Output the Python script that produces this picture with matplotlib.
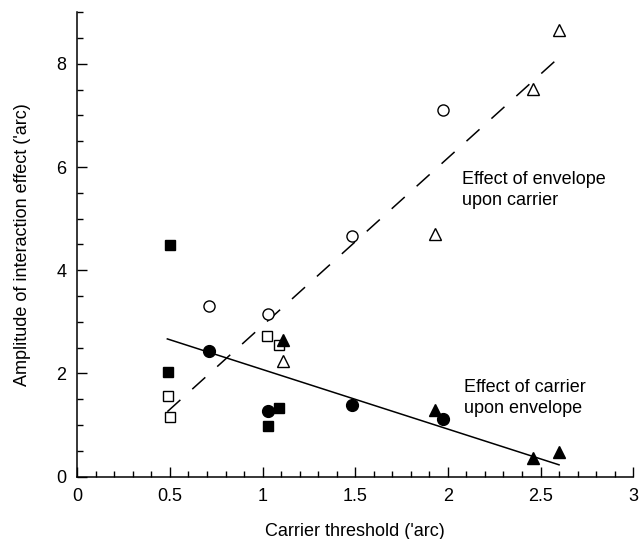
import matplotlib
matplotlib.use("Agg")
import matplotlib.pyplot as plt
from matplotlib.ticker import MultipleLocator

plt.rcParams['font.family'] = ['Liberation Sans', 'DejaVu Sans']

# Open symbols: effect of envelope upon carrier
open_sq_x = [0.49, 0.50, 1.025, 1.09]
open_sq_y = [1.57, 1.16, 2.72, 2.56]
open_ci_x = [0.71, 1.03, 1.48, 1.975]
open_ci_y = [3.30, 3.16, 4.67, 7.11]
open_tr_x = [1.11, 1.93, 2.46, 2.60]
open_tr_y = [2.24, 4.70, 7.52, 8.65]

# Filled symbols: effect of carrier upon envelope
fill_sq_x = [0.50, 0.49, 1.03, 1.09]
fill_sq_y = [4.49, 2.03, 0.99, 1.34]
fill_ci_x = [0.71, 1.03, 1.48, 1.975]
fill_ci_y = [2.43, 1.28, 1.39, 1.11]
fill_tr_x = [1.11, 1.93, 2.46, 2.60]
fill_tr_y = [2.64, 1.29, 0.37, 0.47]

# Fit lines (end points)
dash_fit_x = [0.486, 2.58]
dash_fit_y = [1.26, 8.06]
solid_fit_x = [0.486, 2.60]
solid_fit_y = [2.67, 0.23]

fig = plt.figure(figsize=(6.43, 5.39), dpi=100)
ax = fig.add_axes([0.1202, 0.1156, 0.8645, 0.8616])

ax.plot(dash_fit_x, dash_fit_y, color='black', lw=1.1, dashes=(11.5, 10.5))
ax.plot(solid_fit_x, solid_fit_y, color='black', lw=1.1)

mk = dict(linestyle='none', color='black', markeredgecolor='black', markeredgewidth=1.0)
ax.plot(open_sq_x, open_sq_y, marker='s', ms=7, markerfacecolor='white', **mk)
ax.plot(open_ci_x, open_ci_y, marker='o', ms=8, markerfacecolor='white', **mk)
ax.plot(open_tr_x, open_tr_y, marker='^', ms=8, markerfacecolor='white', **mk)
ax.plot(fill_sq_x, fill_sq_y, marker='s', ms=7, markerfacecolor='black', **mk)
ax.plot(fill_ci_x, fill_ci_y, marker='o', ms=8.5, markerfacecolor='black', **mk)
ax.plot(fill_tr_x, fill_tr_y, marker='^', ms=8, markerfacecolor='black', **mk)

ax.set_xlim(0, 3)
ax.set_ylim(0, 9)
ax.spines['top'].set_visible(False)
ax.spines['right'].set_visible(False)
ax.spines['left'].set_linewidth(1.1)
ax.spines['bottom'].set_linewidth(1.1)

ax.xaxis.set_minor_locator(MultipleLocator(0.1))
ax.yaxis.set_minor_locator(MultipleLocator(0.5))
ax.set_xticks([0, 0.5, 1, 1.5, 2, 2.5, 3])
ax.set_xticklabels(['0', '0.5', '1', '1.5', '2', '2.5', '3'])
ax.set_yticks([0, 2, 4, 6, 8])
ax.set_yticklabels(['0', '2', '4', '6', '8'])
ax.tick_params(which='major', direction='in', length=7, width=1.0, labelsize=13, pad=8)
ax.tick_params(which='minor', direction='in', length=4, width=1.0)

ax.set_xlabel("Carrier threshold ('arc)", fontsize=13, labelpad=13)
ax.set_ylabel("Amplitude of interaction effect ('arc)", fontsize=13, labelpad=18)

ax.text(2.075, 5.93, "Effect of envelope\nupon carrier", fontsize=13,
        va='top', ha='left', linespacing=1.3)
ax.text(2.085, 1.90, "Effect of carrier\nupon envelope", fontsize=13,
        va='top', ha='left', linespacing=1.3)

fig.savefig('out.png', dpi=100)
